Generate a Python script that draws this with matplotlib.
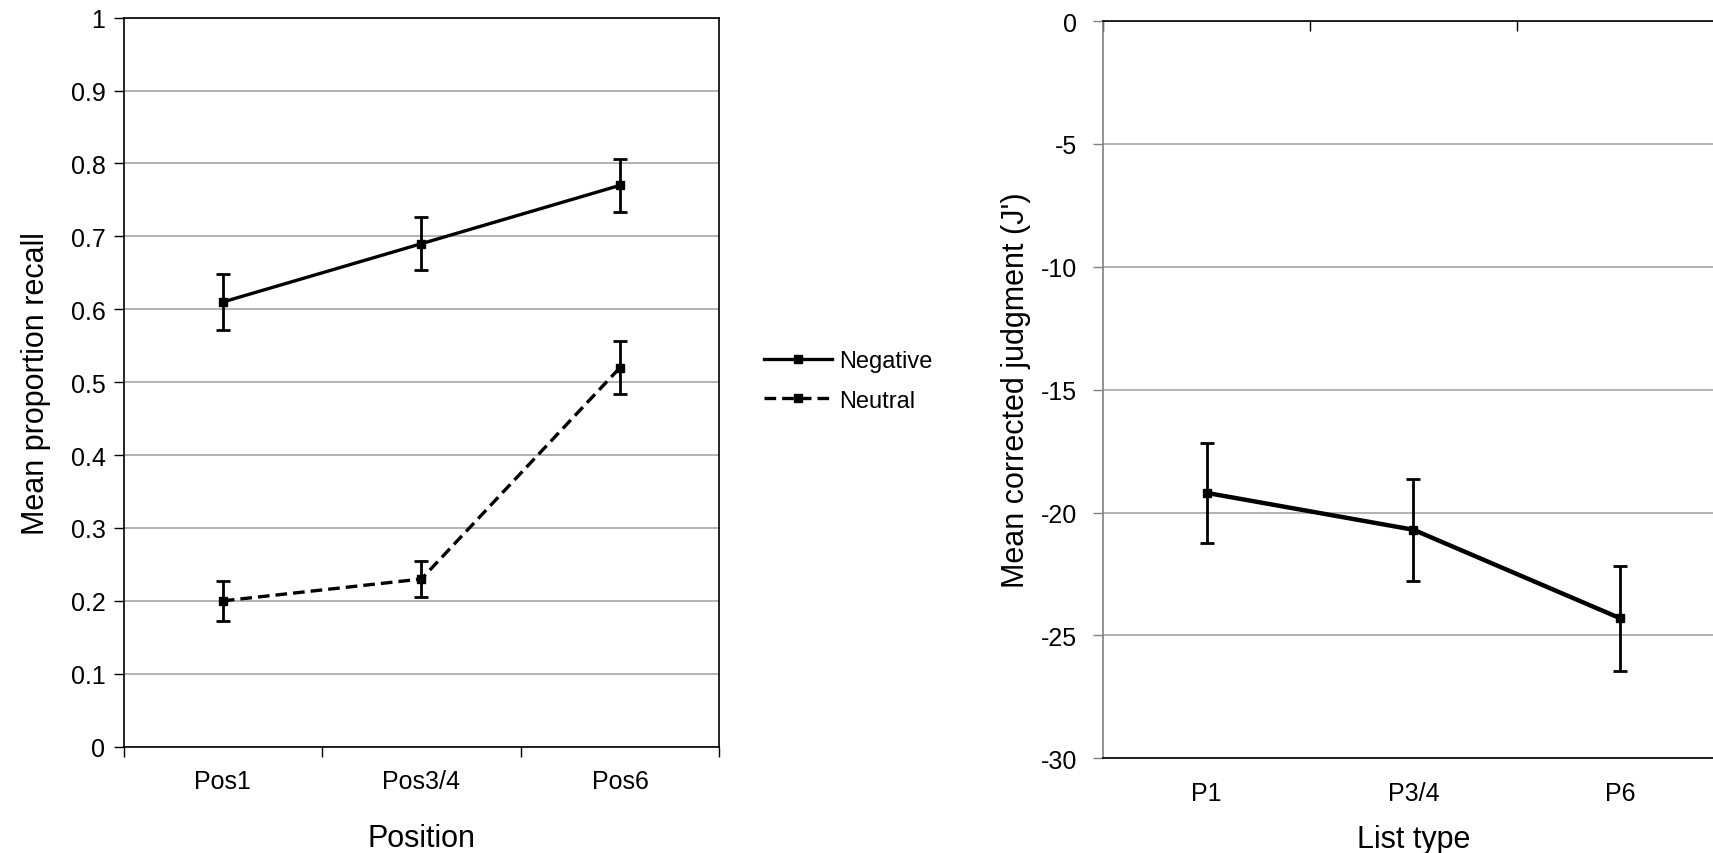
import matplotlib
matplotlib.use("Agg")
import matplotlib.pyplot as plt
import numpy as np

# Left panel: recall by position
positions = ["Pos1", "Pos3/4", "Pos6"]
negative_mean = [0.61, 0.69, 0.77]
negative_err = [0.039, 0.036, 0.036]
neutral_mean = [0.20, 0.23, 0.52]
neutral_err = [0.027, 0.025, 0.036]

# Right panel: corrected judgment by list type
list_types = ["P1", "P3/4", "P6"]
judgment_mean = [-19.2, -20.7, -24.3]
judgment_err = [2.02, 2.07, 2.13]

plt.rcParams["font.family"] = ["Liberation Sans", "DejaVu Sans"]
plt.rcParams["axes.unicode_minus"] = False

TICK_FS = 18
LABEL_FS = 22
GRID_COLOR = "#a6a6a6"

fig = plt.figure(figsize=(17.13, 8.54), dpi=100)

# ---- left panel ----
ax = fig.add_axes([0.0721, 0.1245, 0.3478, 0.8536])
x = np.arange(len(positions))
neg = ax.errorbar(x, negative_mean, yerr=negative_err, color="black", lw=2.4,
                  marker="s", ms=5.5, capsize=5, elinewidth=2.0, capthick=2.0,
                  label="Negative", zorder=3)
neu = ax.errorbar(x, neutral_mean, yerr=neutral_err, color="black", lw=2.4,
                  dashes=(3.5, 1.8), marker="s", ms=5.5, capsize=5, elinewidth=2.0,
                  capthick=2.0, label="Neutral", zorder=3)
ax.set_xlim(-0.5, len(positions) - 0.5)
ax.set_ylim(0, 1)
ax.set_yticks(np.arange(0, 1.01, 0.1))
ax.set_yticklabels(["0"] + [f"{v:.1f}" for v in np.arange(0.1, 0.95, 0.1)] + ["1"])
ax.set_xticks(np.arange(-0.5, len(positions)), labels=[])
ax.set_xticks(x, labels=positions, minor=True)
ax.tick_params(axis="x", which="major", direction="out", length=7, width=1)
ax.tick_params(axis="x", which="minor", length=0, pad=16, labelsize=TICK_FS)
ax.tick_params(axis="y", direction="out", length=7, width=1, pad=6, labelsize=TICK_FS)
ax.yaxis.grid(True, color=GRID_COLOR, lw=1.2)
ax.set_axisbelow(True)
for s in ax.spines.values():
    s.set_color("black")
    s.set_linewidth(1.2)
ax.set_xlabel("Position", fontsize=LABEL_FS, labelpad=22)
ax.set_ylabel("Mean proportion recall", fontsize=LABEL_FS, labelpad=14)

# legend shows only line + marker, no error bars
fig.legend(handles=[neg[0], neu[0]], labels=["Negative", "Neutral"],
           loc="center left", bbox_to_anchor=(0.4335, 0.553), frameon=False,
           fontsize=17, handlelength=2.9, handletextpad=0.3, labelspacing=0.75)

# ---- right panel (extends past the figure edge) ----
ax2 = fig.add_axes([0.6441, 0.1109, 0.362, 0.8633])
x2 = np.arange(len(list_types))
ax2.errorbar(x2, judgment_mean, yerr=judgment_err, color="black", lw=3.2,
             marker="s", ms=5.5, capsize=5, elinewidth=2.0, capthick=2.0, zorder=3)
ax2.set_xlim(-0.5, len(list_types) - 0.5)
ax2.set_ylim(-30, 0)
ax2.set_yticks(np.arange(-30, 1, 5))
ax2.yaxis.grid(True, color=GRID_COLOR, lw=1.2)
ax2.set_axisbelow(True)
# category axis crosses at 0 (top), labels sit at the bottom
ax2.set_xticks(np.arange(-0.5, len(list_types)), labels=[])
ax2.set_xticks(x2, labels=list_types, minor=True)
ax2.tick_params(axis="x", which="major", top=True, bottom=False, direction="in",
                length=7, width=1)
ax2.tick_params(axis="x", which="minor", length=0, pad=16, labelsize=TICK_FS)
ax2.tick_params(axis="y", direction="out", length=7, width=1, color="#808080",
                pad=12, labelsize=TICK_FS)
ax2.spines["left"].set_color("#808080")
ax2.spines["top"].set_color("black")
ax2.spines["bottom"].set_color("black")
for s in ax2.spines.values():
    s.set_linewidth(1.2)
ax2.set_xlabel("List type", fontsize=LABEL_FS, labelpad=14)
ax2.set_ylabel("Mean corrected judgment (J')", fontsize=LABEL_FS, labelpad=7)

fig.savefig("out.png", dpi=100)
